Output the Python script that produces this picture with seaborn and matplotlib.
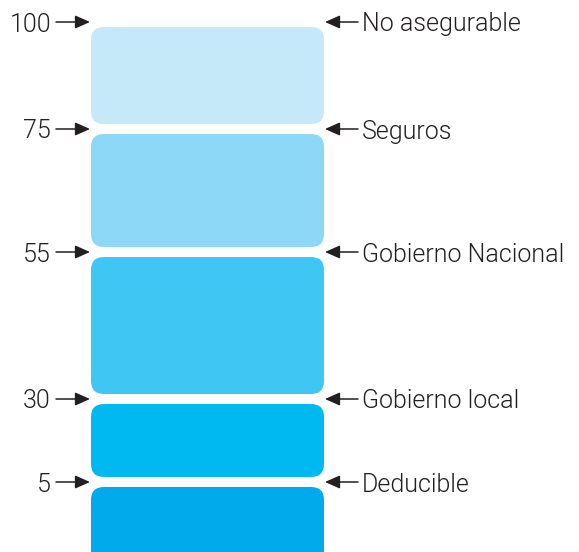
import numpy as np
import matplotlib
matplotlib.use("Agg")
import matplotlib.pyplot as plt
from matplotlib.patches import FancyBboxPatch
from matplotlib.transforms import IdentityTransform
from matplotlib import font_manager
import seaborn as sns

# ---- data ----
layers = ["Deducible", "Gobierno local", "Gobierno Nacional", "Seguros", "No asegurable"]
lower = [0, 5, 30, 55, 75]
upper = [5, 30, 55, 75, 100]
tick_labels = ["5", "30", "55", "75", "100"]
colors = ["#00AAEB", "#00B9F1", "#40C6F3", "#8DD8F6", "#C6E9F9"]

sns.set_theme(style="white")
plt.rcParams["font.family"] = ["Roboto", "DejaVu Sans"]

W, H = 579, 552
fig = plt.figure(figsize=(W / 100, H / 100), dpi=100)
ax = fig.add_axes([0, 0, 1, 1])

# schematic (non-linear) vertical scale of the original diagram
bp_val = np.array([-10, 0, 5, 30, 55, 75, 100, 120])
bp_pos = np.array([-62, -18, 70, 153, 300, 423, 530, 610])
fwd = lambda v: np.interp(v, bp_val, bp_pos)
inv = lambda p: np.interp(p, bp_pos, bp_val)
ax.set_yscale("function", functions=(fwd, inv))
ax.set_ylim(float(inv(0)), float(inv(H)))
ax.set_xlim(0, W)
ax.axis("off")

heights = np.array(upper) - np.array(lower)
bars = ax.bar(207.5, heights, bottom=lower, width=233, color=colors, linewidth=0)

fig.canvas.draw()
for rect, col in zip(bars.patches, colors):
    bb = rect.get_window_extent()
    rect.set_visible(False)
    fb = FancyBboxPatch((bb.x0, bb.y0 + 5), bb.width, bb.height - 10,
                        boxstyle="round,pad=0,rounding_size=13",
                        transform=IdentityTransform(), facecolor=col,
                        edgecolor="none")
    fig.patches.append(fb)
    fb.set_figure(fig)

ink = "#231F20"
aprops = dict(arrowstyle="-|>,head_length=0.9,head_width=0.4", color=ink,
              lw=1.1, shrinkA=0, shrinkB=0, mutation_scale=10)
for v, t, name in zip(upper, tick_labels, layers):
    ax.annotate("", xy=(90, v), xytext=(56, v), arrowprops=aprops)
    ax.annotate("", xy=(325, v), xytext=(358, v), arrowprops=aprops)
    ax.text(51, v, t, ha="right", va="center_baseline", fontsize=18,
            fontweight=300, color=ink)
    ax.text(362, v, name, ha="left", va="center_baseline", fontsize=18,
            fontweight=300, color=ink)

fig.savefig("out.png", dpi=100, facecolor="white")
